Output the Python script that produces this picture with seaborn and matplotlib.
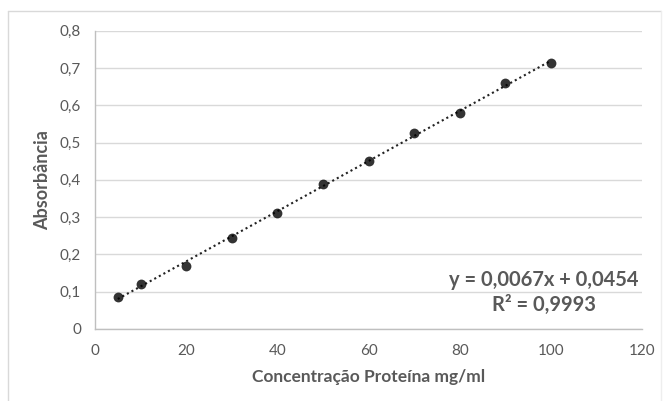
import numpy as np
import pandas as pd
import matplotlib
matplotlib.use("Agg")
import matplotlib.pyplot as plt
import seaborn as sns
from matplotlib.lines import Line2D
from matplotlib.ticker import FuncFormatter

# Data
concentracao = [5, 10, 20, 30, 40, 50, 60, 70, 80, 90, 100]
absorbancia = [0.085, 0.12, 0.169, 0.244, 0.312, 0.39, 0.45, 0.525, 0.58, 0.659, 0.715]
x_ticks = [0, 20, 40, 60, 80, 100, 120]
y_ticks = [0, 0.1, 0.2, 0.3, 0.4, 0.5, 0.6, 0.7, 0.8]
equation_text = "y = 0,0067x + 0,0454\nR² = 0,9993"
x_label = "Concentração Proteína mg/ml"
y_label = "Absorbância"

df = pd.DataFrame({"x": concentracao, "y": absorbancia})

sns.set_style("white")
plt.rcParams["font.family"] = ["Lato", "DejaVu Sans"]

grey_text = "#595959"
fig = plt.figure(figsize=(6.69, 4.01), dpi=100)
ax = fig.add_axes([0.142, 0.18, 0.818, 0.743])

sns.regplot(data=df, x="x", y="y", ax=ax, ci=None, truncate=True,
            scatter_kws=dict(s=50, color="black", edgecolor="black", linewidths=0, zorder=3),
            line_kws=dict(color="#222222", linestyle=(0, (1, 1.5)), linewidth=1.5, zorder=2))

ax.set_xlim(0, 120)
ax.set_ylim(0, 0.8)
ax.set_xticks(x_ticks)
ax.set_yticks(y_ticks)
ax.yaxis.set_major_formatter(FuncFormatter(lambda v, p: ("%g" % round(v, 1)).replace(".", ",")))
ax.xaxis.set_major_formatter(FuncFormatter(lambda v, p: "%d" % v))
ax.grid(axis="y", color="#d9d9d9", linewidth=1)
ax.set_axisbelow(True)
for s in ["top", "right"]:
    ax.spines[s].set_visible(False)
for s in ["left", "bottom"]:
    ax.spines[s].set_color("#bfbfbf")
    ax.spines[s].set_linewidth(1)
ax.tick_params(axis="both", direction="out", length=4, width=1, color="#bfbfbf",
               labelcolor=grey_text, labelsize=11)
ax.tick_params(axis="x", pad=7)
ax.tick_params(axis="y", pad=6)

ax.set_xlabel(x_label, fontsize=12.5, fontweight="bold", color=grey_text, labelpad=8)
ax.set_ylabel(y_label, fontsize=13, fontweight="bold", color=grey_text, labelpad=6)

ax.text(0.994, 0.121, equation_text, transform=ax.transAxes, ha="right", va="center",
        fontsize=14.5, fontweight="bold", color=grey_text, multialignment="center",
        linespacing=1.3)

# outer chart border (left and top visible)
fig.add_artist(Line2D([8 / 669, 8 / 669], [0, 1 - 11 / 401], transform=fig.transFigure,
                      color="#d9d9d9", linewidth=1))
fig.add_artist(Line2D([8 / 669, 661 / 669], [1 - 11 / 401, 1 - 11 / 401], transform=fig.transFigure,
                      color="#d9d9d9", linewidth=1))
fig.add_artist(Line2D([661 / 669, 661 / 669], [0, 1 - 11 / 401], transform=fig.transFigure,
                      color="#eeeeee", linewidth=1))

fig.savefig("out.png", dpi=100)
